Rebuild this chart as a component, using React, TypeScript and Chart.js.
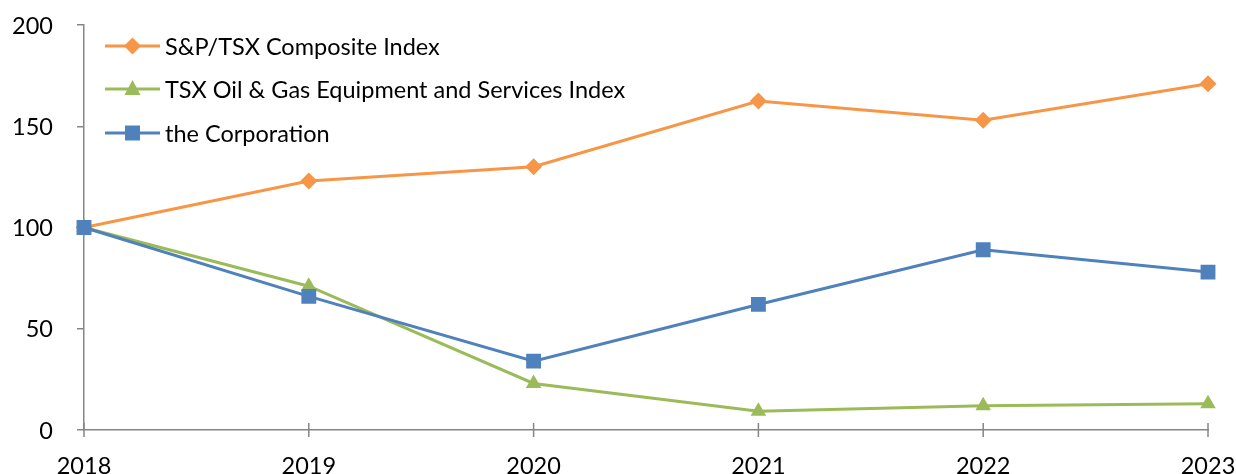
import React, { useEffect, useRef } from "react";
import { Chart, registerables } from "chart.js";

Chart.register(...registerables);

const years = ["2018", "2019", "2020", "2021", "2022", "2023"];
const composite = [100, 123, 130, 162.5, 153, 171];
const oilGas = [100, 71, 23, 9.3, 12, 13];
const corporation = [100, 66, 34, 62, 89, 78];
const yTicks = [0, 50, 100, 150, 200];

const ORANGE = "#F79646";
const GREEN = "#9BBB59";
const BLUE = "#4F81BD";
const AXIS = "#868686";
const FONT = "Lato, 'Open Sans', sans-serif";
const FSIZE = 23.5;

const legendItems = [
  { label: "S&P/TSX Composite Index", color: ORANGE, style: "rectRot" },
  { label: "TSX Oil & Gas Equipment and Services Index", color: GREEN, style: "triangle" },
  { label: "the Corporation", color: BLUE, style: "rect" },
];

function drawMarker(ctx: CanvasRenderingContext2D, style: string, x: number, y: number) {
  ctx.beginPath();
  if (style === "rect") {
    ctx.rect(x - 7.5, y - 7.5, 15, 15);
  } else if (style === "triangle") {
    ctx.moveTo(x, y - 9);
    ctx.lineTo(x + 8, y + 6);
    ctx.lineTo(x - 8, y + 6);
    ctx.closePath();
  } else {
    ctx.moveTo(x, y - 8.5);
    ctx.lineTo(x + 8.5, y);
    ctx.lineTo(x, y + 8.5);
    ctx.lineTo(x - 8.5, y);
    ctx.closePath();
  }
  ctx.fill();
}

const customPlugin = {
  id: "custom",
  afterDraw(chart: any) {
    const ctx = chart.ctx;
    const xs = chart.scales.x;
    const ys = chart.scales.y;
    ctx.save();
    ctx.strokeStyle = AXIS;
    ctx.lineWidth = 1.5;
    const y0 = ys.getPixelForValue(0);
    years.forEach((_, i) => {
      const x = xs.getPixelForValue(i);
      ctx.beginPath();
      ctx.moveTo(x, y0 - 7);
      ctx.lineTo(x, y0 + 7);
      ctx.stroke();
    });
    ctx.fillStyle = "#000";
    ctx.font = `${FSIZE}px ${FONT}`;
    ctx.textBaseline = "middle";
    ctx.textAlign = "right";
    yTicks.forEach((v) => {
      ctx.fillText(String(v), 53, ys.getPixelForValue(v) + 1);
    });
    ctx.textAlign = "center";
    years.forEach((yr, i) => {
      ctx.fillText(yr, xs.getPixelForValue(i), y0 + 36);
    });
    const left = chart.chartArea.left + 21;
    const rowsY = [46, 89, 133];
    legendItems.forEach((it, i) => {
      const y = rowsY[i];
      ctx.strokeStyle = it.color;
      ctx.lineWidth = 3;
      ctx.beginPath();
      ctx.moveTo(left, y);
      ctx.lineTo(left + 55, y);
      ctx.stroke();
      ctx.fillStyle = it.color;
      drawMarker(ctx, it.style, left + 27.5, y);
      ctx.fillStyle = "#000";
      ctx.textAlign = "left";
      ctx.fillText(it.label, left + 60, y + 1);
    });
    ctx.restore();
  },
};

export default function App() {
  const ref = useRef<HTMLCanvasElement | null>(null);
  useEffect(() => {
    document.body.style.margin = "0";
    if (!ref.current) return;
    const chart = new Chart(ref.current, {
      type: "line",
      data: {
        labels: years,
        datasets: [
          {
            label: legendItems[0].label,
            data: composite,
            borderColor: ORANGE,
            backgroundColor: ORANGE,
            pointStyle: "rectRot",
            pointRadius: 8.5,
            borderWidth: 3,
            pointBorderWidth: 0,
            order: 3,
          },
          {
            label: legendItems[1].label,
            data: oilGas,
            borderColor: GREEN,
            backgroundColor: GREEN,
            pointStyle: "triangle",
            pointRadius: 9,
            borderWidth: 3,
            pointBorderWidth: 0,
            order: 2,
          },
          {
            label: legendItems[2].label,
            data: corporation,
            borderColor: BLUE,
            backgroundColor: BLUE,
            pointStyle: "rect",
            pointRadius: 10.5,
            borderWidth: 3,
            pointBorderWidth: 0,
            order: 1,
          },
        ],
      },
      options: {
        animation: false,
        responsive: false,
        maintainAspectRatio: false,
        layout: { padding: { top: 25, right: 28, left: 0, bottom: 0 } },
        plugins: { legend: { display: false }, tooltip: { enabled: false } },
        scales: {
          x: {
            offset: false,
            grid: { display: false, drawTicks: false },
            border: { display: true, color: AXIS, width: 1.5 },
            ticks: { display: false },
            afterFit(scale: any) {
              scale.height = 44;
            },
          },
          y: {
            min: 0,
            max: 200,
            afterBuildTicks(scale: any) {
              scale.ticks = yTicks.map((v) => ({ value: v }));
            },
            grid: { display: true, drawOnChartArea: false, drawTicks: true, tickLength: 7, color: AXIS, lineWidth: 1.5 },
            border: { display: true, color: AXIS, width: 1.5 },
            ticks: { display: false },
            afterFit(scale: any) {
              scale.width = 84;
            },
          },
        },
      },
      plugins: [customPlugin],
    });
    return () => chart.destroy();
  }, []);
  return (
    <div style={{ width: 1236, height: 474 }}>
      <canvas ref={ref} width={1236} height={474} style={{ display: "block" }} />
    </div>
  );
}
